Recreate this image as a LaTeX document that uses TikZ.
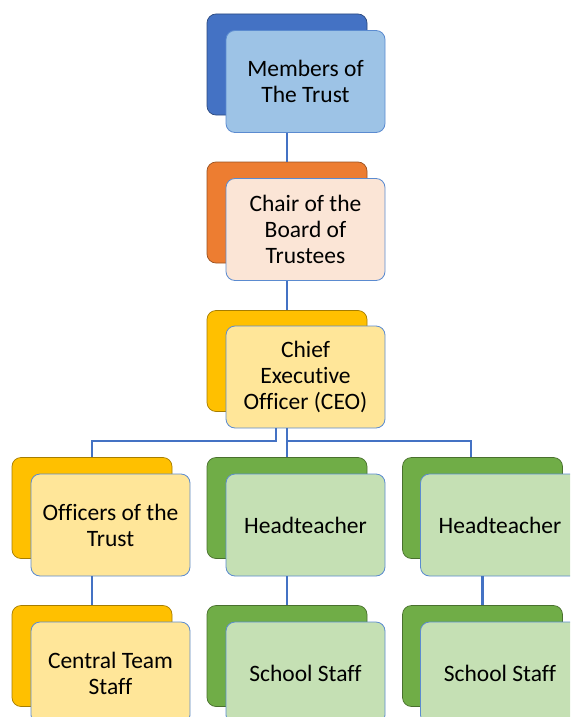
\documentclass[tikz,border=0pt]{standalone}
\usepackage{fontspec}
\setmainfont{Carlito}[Ligatures={NoCommon}]
\definecolor{linkblue}{HTML}{4472C4}
\definecolor{edgeblue}{HTML}{5B8BD0}
\definecolor{blueD}{HTML}{4472C4}
\definecolor{blueL}{HTML}{9DC3E6}
\definecolor{orangeD}{HTML}{ED7D31}
\definecolor{orangeL}{HTML}{FBE5D6}
\definecolor{goldD}{HTML}{FFC000}
\definecolor{goldL}{HTML}{FFE699}
\definecolor{greenD}{HTML}{70AD47}
\definecolor{greenL}{HTML}{C5E0B4}
\tikzset{
  backbox/.style={rectangle, rounded corners=9pt, minimum width=160pt, minimum height=101pt,
    inner sep=0pt, fill=#1, draw=#1!65!black, line width=0.7pt},
  frontbox/.style={rectangle, rounded corners=9pt, minimum width=159pt, minimum height=102pt,
    inner sep=0pt, fill=#1, draw=edgeblue, line width=0.8pt, align=center,
    font=\fontsize{23.5}{26}\selectfont, text=black},
  link/.style={draw=linkblue, line width=2.2pt}
}
\begin{document}
\begin{tikzpicture}[x=1pt,y=-1pt]
\useasboundingbox (0,0) rectangle (570,717);
\clip (0,0) rectangle (570,717);
% level 1
\node[backbox=blueD]  (membersB) at (287,64.5) {};
\node[frontbox=blueL] (members)  at (305.5,81.5) {Members of\\The Trust};
% level 2
\node[backbox=orangeD]  (chairB) at (287,212.5) {};
\node[frontbox=orangeL] (chair)  at (305.5,229.5) {Chair of the\\Board of\\Trustees};
% level 3
\node[backbox=goldD]  (ceoB) at (287,361) {};
\node[frontbox=goldL] (ceo)  at (305.5,377) {Chief\\Executive\\Officer (CEO)};
% level 4
\node[backbox=goldD]  (officersB) at (92,508) {};
\node[frontbox=goldL] (officers)  at (110.5,525) {Officers of the\\Trust};
\node[backbox=greenD]  (headBm) at (287,508) {};
\node[frontbox=greenL] (headm)  at (305.5,525) {Headteacher};
\node[backbox=greenD]  (headBr) at (482.5,508) {};
\node[frontbox=greenL] (headr)  at (500,525) {Headteacher};
% level 5
\node[backbox=goldD]  (centralB) at (92,656) {};
\node[frontbox=goldL] (central)  at (110.5,673) {Central Team\\Staff};
\node[backbox=greenD]  (staffBm) at (287,656) {};
\node[frontbox=greenL] (staffm)  at (305.5,673) {School Staff};
\node[backbox=greenD]  (staffBr) at (482.5,656) {};
\node[frontbox=greenL] (staffr)  at (500,673) {School Staff};
% connectors
\draw[link] (membersB.center |- members.south) -- (chairB.north);
\draw[link] (chairB.center |- chair.south) -- (ceoB.north);
\coordinate (jl) at (276,441);
\coordinate (jr) at (287,441);
\coordinate (jf) at (471,441);
\draw[link] (jl |- ceo.south) -- (jl) -- (officersB.north |- jl) -- (officersB.north);
\draw[link] (ceoB.center |- ceo.south) -- (headBm.north);
\draw[link] (jr) -- (jf) -- (jf |- headBr.north);
\draw[link] (officersB.center |- officers.south) -- (centralB.north);
\draw[link] (headBm.center |- headm.south) -- (staffBm.north);
\draw[link] (headBr.center |- headr.south) -- (staffBr.north);
\end{tikzpicture}
\end{document}
